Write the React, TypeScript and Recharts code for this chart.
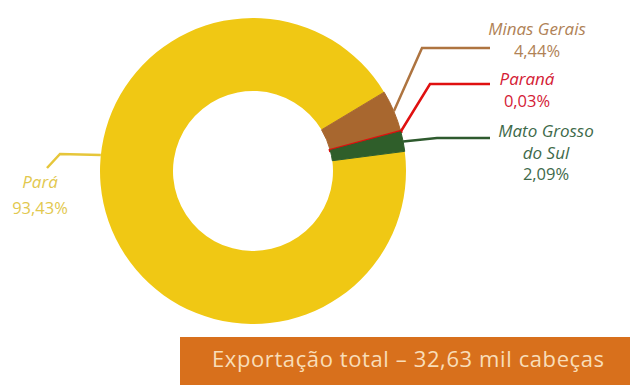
import { PieChart, Pie, Cell } from "recharts";

// estados de origem e participação (%) na exportação
const states = ["Pará", "Minas Gerais", "Paraná", "Mato Grosso do Sul"];
const shares = [93.43, 4.44, 0.03, 2.09];
const shareLabels = ["93,43%", "4,44%", "0,03%", "2,09%"];
const labelLines = [["Pará"], ["Minas Gerais"], ["Paraná"], ["Mato Grosso", "do Sul"]];
const totalText = "Exportação total – 32,63 mil cabeças";

const sliceColors = ["#F0C814", "#A8672F", "#E00E0E", "#2F5E2A"];
const lineColors = ["#E6C63A", "#AE7440", "#E01010", "#2E5A2E"];
const textColors = ["#E2C84E", "#B08256", "#D42035", "#3E6A4A"];

// label placement: elbow, end of line, text centre x and first baseline
const labelLayout = [
    { startAngle: 174, elbow: [60, 154], end: [47, 168], tx: 40, ty: 188 },
    { elbow: [422, 48], end: [490, 48], tx: 537, ty: 35 },
    { elbow: [430, 84], end: [490, 84], tx: 527, ty: 85 },
    { elbow: [437, 138], end: [490, 138], tx: 546, ty: 137 },
];

const chartData = states.map((name, i) => ({ name, value: shares[i] }));

const RAD = Math.PI / 180;
const smallTotal = shares.slice(1).reduce((a, b) => a + b, 0);
const topOfSmall = 31; // angle where Minas Gerais begins
const startAngle = topOfSmall - (smallTotal / 100) * 360;

function renderLabel(props: any) {
    const { cx, cy, midAngle, outerRadius, index } = props;
    const lay = labelLayout[index];
    const ang = lay.startAngle ?? midAngle;
    const sx = cx + outerRadius * Math.cos(-ang * RAD);
    const sy = cy + outerRadius * Math.sin(-ang * RAD);
    const lines = labelLines[index];
    return (
        <g key={`lbl-${index}`}>
            <polyline
                points={`${sx},${sy} ${lay.elbow[0]},${lay.elbow[1]} ${lay.end[0]},${lay.end[1]}`}
                fill="none"
                stroke={lineColors[index]}
                strokeWidth={2.5}
            />
            {lines.map((t, j) => (
                <text
                    key={j}
                    x={lay.tx}
                    y={lay.ty + j * 21.5}
                    textAnchor="middle"
                    fill={textColors[index]}
                    fontSize={17}
                    fontStyle="italic"
                    fontFamily="'Open Sans', sans-serif"
                >
                    {t}
                </text>
            ))}
            <text
                x={lay.tx}
                y={lay.ty + lines.length * 21.5 + (index === 0 ? 4 : 0)}
                textAnchor="middle"
                fill={textColors[index]}
                fontSize={16.5}
                fontFamily="'Open Sans', sans-serif"
            >
                {shareLabels[index]}
            </text>
        </g>
    );
}

export default function App() {
    return (
        <div style={styles.wrap}>
            <PieChart width={630} height={385}>
                <Pie
                    data={chartData}
                    dataKey="value"
                    nameKey="name"
                    cx={248}
                    cy={166}
                    innerRadius={80}
                    outerRadius={153}
                    startAngle={startAngle}
                    endAngle={startAngle - 360}
                    label={renderLabel}
                    labelLine={false}
                    isAnimationActive={false}
                >
                    {chartData.map((d, i) => (
                        <Cell
                            key={d.name}
                            fill={sliceColors[i]}
                            stroke={i === 0 ? "none" : sliceColors[i]}
                            strokeWidth={i === 2 ? 3 : 1}
                        />
                    ))}
                </Pie>
            </PieChart>
            <div style={styles.banner}>{totalText}</div>
        </div>
    );
}

const styles: Record<string, React.CSSProperties> = {
    wrap: {
        position: "absolute",
        left: 0,
        top: 0,
        width: 630,
        height: 385,
        background: "#fff",
        overflow: "hidden",
    },
    banner: {
        position: "absolute",
        left: 180,
        top: 337,
        width: 450,
        height: 48,
        background: "#D8701C",
        color: "#F8DDB8",
        fontFamily: "'Open Sans', sans-serif",
        fontSize: 22,
        letterSpacing: 0.6,
        lineHeight: "42px",
        paddingLeft: 32,
        boxSizing: "border-box",
        whiteSpace: "nowrap",
    },
};
